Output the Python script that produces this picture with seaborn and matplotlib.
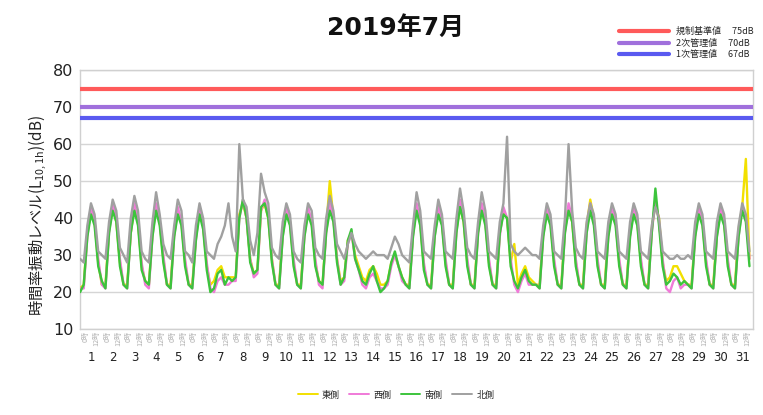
import numpy as np
import pandas as pd
import matplotlib
matplotlib.use('Agg')
import matplotlib.pyplot as plt
import matplotlib.transforms as mtrans
import seaborn as sns
from matplotlib.lines import Line2D

sns.set_theme(style='white')
plt.rcParams['font.family'] = ['DejaVu Sans', 'Noto Sans CJK JP']
plt.rcParams['mathtext.default'] = 'regular'

# ---------------- data ----------------
title = "2019年7月"
ylabel = "時間率振動レベル(L$_{10,1h}$)(dB)"
days = list(range(1, 32))
hours = [0, 4, 8, 12, 16, 20]
hour_tick_labels = ["0時", "12時"]

series_names = ["東側", "西側", "南側", "北側"]
series_colors = ["#F2E000", "#F07AD8", "#3CC43C", "#A0A0A0"]

limit_labels = ["規制基準値　 75dB", "2次管理値　 70dB", "1次管理値　 67dB"]
limit_values = [75, 70, 67]
limit_colors = ["#FF5A5A", "#A070DC", "#5A5AF0"]

yellow = [
    [21, 22, 36, 42, 39, 28], [22, 22, 37, 43, 39, 28], [22, 22, 36, 43, 39, 27],
    [23, 22, 36, 43, 39, 29], [22, 22, 36, 42, 39, 28], [22, 22, 35, 42, 38, 27],
    [22, 23, 26, 27, 24, 24], [24, 24, 41, 44, 40, 29], [25, 26, 42, 44, 40, 29],
    [22, 22, 36, 42, 39, 28], [22, 22, 36, 42, 39, 28], [23, 22, 37, 50, 40, 29],
    [23, 24, 34, 36, 30, 27], [24, 23, 26, 27, 25, 22], [22, 23, 28, 30, 27, 24],
    [22, 22, 36, 43, 39, 27], [22, 22, 36, 42, 39, 28], [22, 22, 37, 43, 39, 28],
    [22, 22, 37, 42, 39, 28], [22, 22, 36, 42, 40, 28], [33, 22, 25, 27, 24, 23],
    [22, 22, 36, 42, 39, 28], [22, 22, 37, 43, 39, 28], [22, 22, 38, 45, 40, 28],
    [22, 22, 37, 43, 39, 28], [22, 22, 36, 42, 39, 28], [22, 22, 37, 44, 40, 28],
    [23, 24, 27, 27, 25, 23], [22, 22, 36, 42, 39, 28], [22, 22, 36, 42, 39, 28],
    [22, 22, 37, 43, 56, 29],
]
pink = [
    [21, 21, 35, 43, 39, 29], [22, 21, 36, 44, 40, 29], [22, 21, 36, 44, 39, 28],
    [22, 21, 35, 44, 39, 30], [22, 21, 35, 43, 39, 29], [22, 21, 34, 43, 38, 28],
    [21, 20, 23, 24, 22, 22], [23, 23, 40, 45, 40, 29], [24, 25, 42, 45, 41, 29],
    [22, 21, 35, 43, 39, 29], [22, 21, 35, 43, 39, 29], [22, 21, 36, 44, 40, 29],
    [22, 23, 33, 36, 29, 26], [22, 21, 24, 25, 23, 21], [21, 22, 27, 30, 27, 23],
    [22, 21, 35, 44, 39, 28], [22, 21, 35, 43, 39, 29], [22, 21, 36, 45, 40, 29],
    [22, 21, 36, 44, 39, 29], [22, 21, 35, 43, 40, 29], [22, 20, 23, 25, 22, 22],
    [22, 21, 35, 43, 39, 29], [22, 21, 36, 44, 40, 29], [22, 21, 36, 44, 39, 29],
    [22, 21, 35, 43, 39, 29], [22, 21, 35, 43, 39, 29], [22, 21, 36, 45, 39, 29],
    [21, 20, 23, 24, 21, 22], [22, 21, 35, 43, 39, 29], [22, 21, 35, 43, 39, 29],
    [22, 21, 35, 43, 40, 29],
]
green = [
    [20, 22, 35, 41, 38, 27], [23, 21, 36, 42, 39, 27], [22, 21, 36, 42, 38, 26],
    [23, 22, 35, 42, 38, 28], [22, 21, 35, 41, 38, 27], [22, 21, 34, 41, 37, 26],
    [20, 21, 25, 26, 22, 24], [23, 24, 40, 45, 40, 28], [25, 26, 43, 44, 40, 28],
    [22, 21, 35, 41, 38, 27], [22, 21, 35, 41, 38, 27], [23, 22, 36, 42, 39, 28],
    [22, 24, 34, 37, 29, 26], [23, 22, 25, 27, 23, 20], [21, 23, 28, 31, 27, 24],
    [22, 21, 35, 42, 38, 26], [22, 21, 35, 41, 38, 27], [22, 21, 36, 43, 39, 27],
    [22, 21, 36, 42, 38, 27], [22, 21, 36, 41, 40, 27], [23, 21, 24, 26, 23, 22],
    [22, 21, 35, 41, 38, 27], [22, 21, 36, 42, 39, 27], [22, 21, 36, 42, 38, 27],
    [22, 21, 35, 41, 38, 27], [22, 21, 35, 41, 38, 27], [22, 21, 36, 48, 38, 27],
    [22, 23, 25, 24, 22, 23], [22, 21, 35, 41, 38, 27], [22, 21, 35, 41, 38, 27],
    [22, 21, 35, 42, 39, 27],
]
gray = [
    [29, 28, 38, 44, 41, 31], [30, 29, 39, 45, 42, 32], [30, 28, 40, 46, 42, 31],
    [29, 28, 39, 47, 41, 33], [30, 29, 38, 45, 42, 31], [30, 28, 38, 44, 40, 31],
    [30, 29, 33, 35, 38, 44], [35, 31, 60, 45, 43, 34], [30, 36, 52, 47, 44, 32],
    [30, 29, 39, 44, 41, 31], [29, 28, 38, 44, 42, 32], [30, 29, 40, 46, 42, 33],
    [31, 29, 33, 36, 33, 31], [30, 29, 30, 31, 30, 30], [30, 29, 32, 35, 33, 30],
    [29, 28, 38, 47, 42, 31], [30, 29, 38, 45, 41, 31], [30, 29, 40, 48, 42, 32],
    [30, 29, 39, 47, 42, 31], [30, 29, 39, 44, 62, 33], [31, 30, 31, 32, 31, 30],
    [30, 29, 38, 44, 41, 31], [30, 29, 40, 60, 42, 32], [30, 29, 39, 44, 41, 31],
    [30, 29, 39, 44, 41, 31], [30, 29, 39, 44, 41, 31], [30, 29, 38, 43, 40, 31],
    [30, 29, 29, 30, 29, 29], [30, 29, 39, 44, 41, 31], [30, 29, 39, 44, 41, 31],
    [30, 29, 38, 44, 41, 31],
]
series_values = [yellow, pink, green, gray]

# long table
rows = []
for name, vals in zip(series_names, series_values):
    for d, dayvals in zip(days, vals):
        for h, v in zip(hours, dayvals):
            rows.append({"series": name, "t": (d - 1) + h / 24.0, "v": v})
df = pd.DataFrame(rows)

# ---------------- figure ----------------
fig = plt.figure(figsize=(7.63, 4.15), dpi=100)
fig.patch.set_facecolor('white')
ax = fig.add_axes([0.105, 0.207, 0.882, 0.624])
ax.set_facecolor('white')

for v, c in zip(limit_values, limit_colors):
    ax.axhline(v, color=c, lw=3, zorder=3)

draw_order = [1, 0, 2, 3]  # pink, yellow, green, gray
for i in draw_order:
    sub = df[df["series"] == series_names[i]]
    sns.lineplot(data=sub, x="t", y="v", color=series_colors[i], lw=1.7,
                 ax=ax, legend=False, zorder=4 + i)

ax.set_xlim(0, 31)
ax.set_ylim(10, 80)
ax.set_yticks(range(10, 81, 10))
ax.yaxis.grid(True, color='#d5d5d5', lw=1)
ax.set_axisbelow(True)
for s in ax.spines.values():
    s.set_color('#d0d0d0')
    s.set_linewidth(1)
ax.tick_params(axis='y', length=0, pad=5, labelsize=11.5, labelcolor='#222222')

ax.set_xticks([d - 0.5 for d in days])
ax.set_xticklabels([str(d) for d in days])
ax.set_xticks(list(range(0, 32)), minor=True)
ax.tick_params(axis='x', which='major', length=0, pad=16, labelsize=8.5, labelcolor='#222222')
ax.tick_params(axis='x', which='minor', length=28, width=1, color='#dcdcdc', direction='out')
ax.set_xlabel("")

ax.set_ylabel(ylabel, fontsize=11, family=['Noto Sans CJK JP', 'DejaVu Sans'], color='#222222')
ax.yaxis.set_label_coords(-0.047, 0.44)

# small hour labels under axis
trans = mtrans.blended_transform_factory(ax.transData, ax.transAxes)
for d in days:
    for h, lab in zip([0, 12], hour_tick_labels):
        ax.text((d - 1) + h / 24.0 + 0.25, -0.005, lab, transform=trans, rotation=90,
                fontsize=5.2, color='#b0b0b0', ha='center', va='top',
                family=['Noto Sans CJK JP', 'DejaVu Sans'])

fig.text(0.518, 0.933, title, fontsize=18, fontweight='bold', ha='center', va='center',
         color='#111111')

lim_handles = [Line2D([0], [0], color=c, lw=3) for c in limit_colors]
fig.legend(lim_handles, limit_labels, loc='upper right', bbox_to_anchor=(0.998, 0.955),
           frameon=False, handlelength=5.5, labelspacing=0.3,
           prop={'family': ['Noto Sans CJK JP', 'DejaVu Sans'], 'size': 6.5})

ser_handles = [Line2D([0], [0], color=c, lw=1.4) for c in series_colors]
fig.legend(ser_handles, series_names, loc='center', bbox_to_anchor=(0.519, 0.048),
           ncol=4, frameon=False, handlelength=2.2, columnspacing=1.0, handletextpad=0.5,
           prop={'family': ['Noto Sans CJK JP', 'DejaVu Sans'], 'size': 6.5})

fig.savefig("out.png", dpi=100, facecolor='white')
